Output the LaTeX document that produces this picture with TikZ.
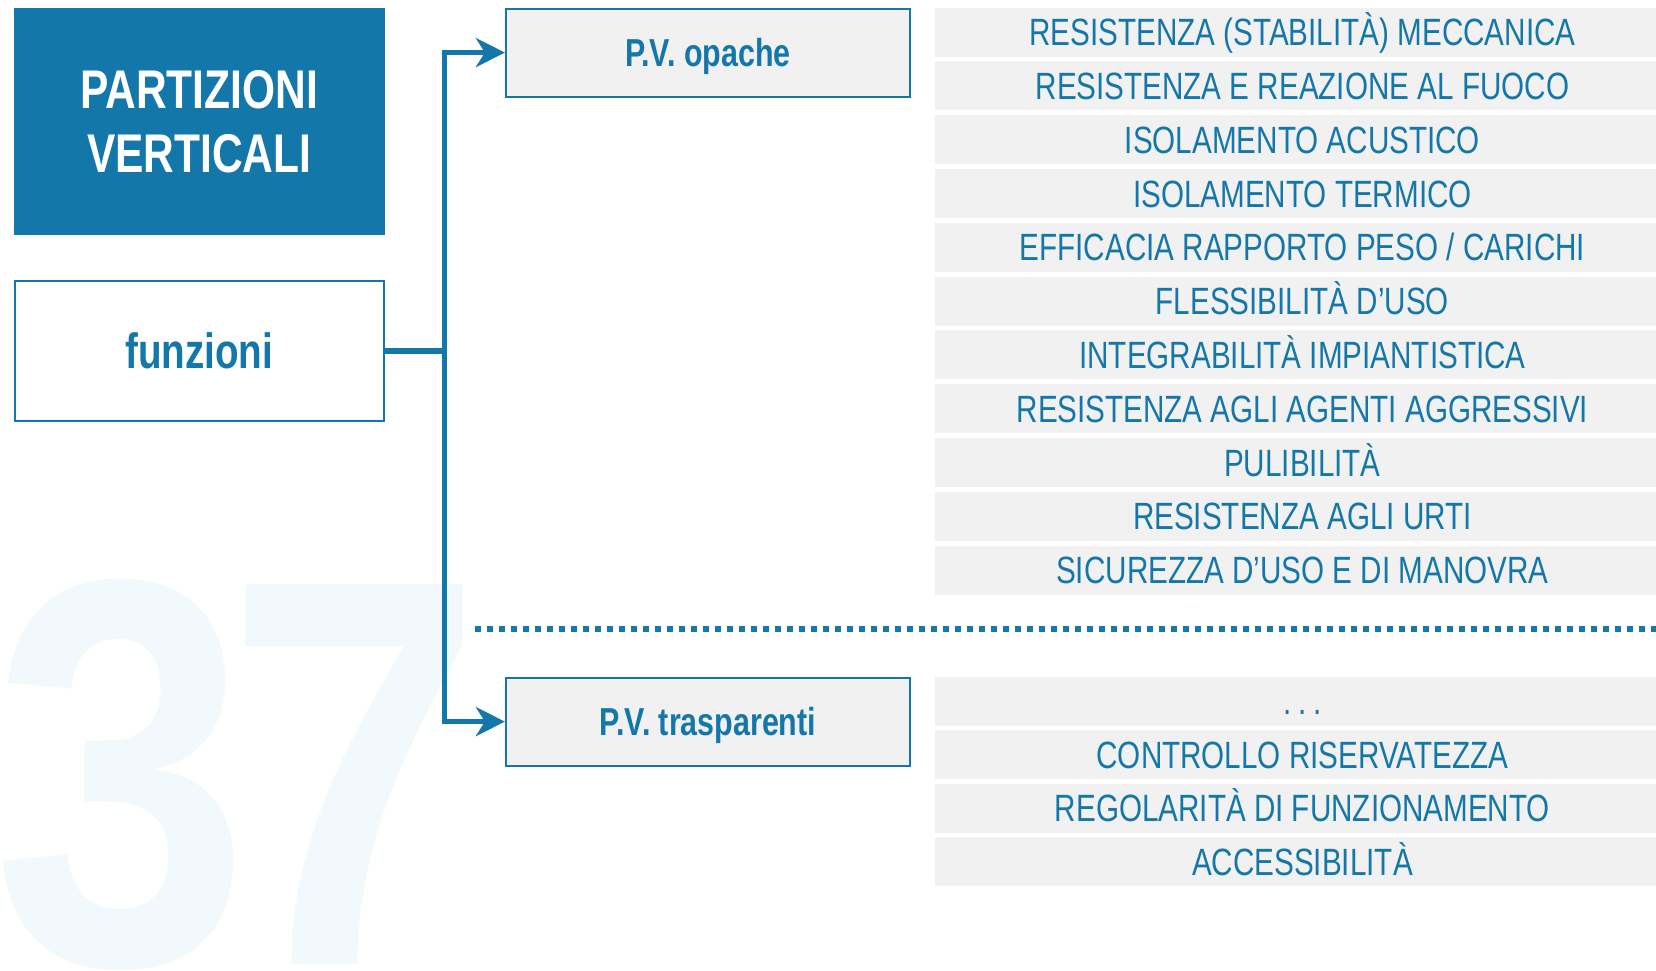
\documentclass[tikz,border=0pt]{standalone}
\usepackage{fontspec}
\setmainfont{Liberation Sans}[FakeStretch=0.78]
\newfontfamily\numfont{Liberation Sans}[FakeStretch=0.84]
\usetikzlibrary{positioning,arrows.meta}
\definecolor{blu}{HTML}{1477AA}
\definecolor{grigio}{HTML}{F1F1F1}
\definecolor{fondo}{HTML}{F2F9FD}

\begin{document}
\begin{tikzpicture}[x=1pt,y=-1pt,
        num/.style={anchor=base west, inner sep=0pt, text=fondo, font=\fontsize{552}{552}\numfont\bfseries},
        tit/.style={fill=blu, minimum width=371pt, minimum height=227pt, inner sep=0pt, text=white, align=center, font=\fontsize{54.5}{64}\selectfont\bfseries},
        fbox/.style={draw=blu, line width=2pt, fill=white, minimum width=369pt, minimum height=140pt, inner sep=0pt, text=blu, font=\fontsize{49.5}{50}\selectfont\bfseries},
        box/.style={draw=blu, line width=2pt, fill=grigio, minimum width=404pt, minimum height=88pt, inner sep=0pt, text=blu, font=\fontsize{39}{40}\selectfont\bfseries, text height=28pt, text depth=0pt},
        riga/.style={fill=grigio, minimum width=735pt, minimum height=49pt, inner sep=0pt, outer sep=0pt, text=blu, font=\fontsize{38}{40}\selectfont, text height=27.2pt, text depth=0pt},
        linea/.style={draw=blu, line width=5.5pt},
        freccia/.style={linea, -{Stealth[length=29pt,width=29pt,inset=9pt]}},
        sep/.style={draw=blu, line width=6pt, dash pattern=on 6pt off 6pt}
    ]
    \useasboundingbox (0,0) rectangle (1656,970);
    % numero di sfondo
    \node[num] (num) at (-8,964) {3\kern-25pt7};

    \node[tit] (tit) at (199.2,121.3) {PARTIZIONI\\VERTICALI};
    \node[fbox, below=45pt of tit] (fun) {funzioni};
    \node[box, right=120pt of tit.north east, anchor=north west] (op) {P.V. opache};
    \node[box, below=579pt of op] (tr) {P.V. trasparenti};

    % elenco funzioni
    \node[riga, right=24pt of op.north east, anchor=north west] (o1) {RESISTENZA (STABILITÀ) MECCANICA};
    \foreach \t [count=\i from 2, remember=\i as \j (initially 1)] in {%
        {RESISTENZA E REAZIONE AL FUOCO}, {ISOLAMENTO ACUSTICO}, {ISOLAMENTO TERMICO},
        {EFFICACIA RAPPORTO PESO / CARICHI}, {FLESSIBILITÀ D’USO}, {INTEGRABILITÀ IMPIANTISTICA},
        {RESISTENZA AGLI AGENTI AGGRESSIVI}, {PULIBILITÀ}, {RESISTENZA AGLI URTI},
        {SICUREZZA D’USO E DI MANOVRA}}
        \node[riga, below=4.8pt of o\j] (o\i) {\t};

    \node[riga, right=24pt of tr.north east, anchor=north west] (t1) {.\kern7pt.\kern7pt.};
    \foreach \t [count=\i from 2, remember=\i as \j (initially 1)] in {%
        {CONTROLLO RISERVATEZZA}, {REGOLARITÀ DI FUNZIONAMENTO}, {ACCESSIBILITÀ}}
        \node[riga, below=4.5pt of t\j] (t\i) {\t};

    % collegamenti
    \coordinate[right=60pt of fun] (n);
    \draw[linea] (fun) -- (n);
    \draw[freccia] (n) |- (op.west);
    \draw[freccia] (n) |- (tr.west);

    \draw[sep] (475,629.3) -- (1660,629.3);
\end{tikzpicture}
\end{document}
